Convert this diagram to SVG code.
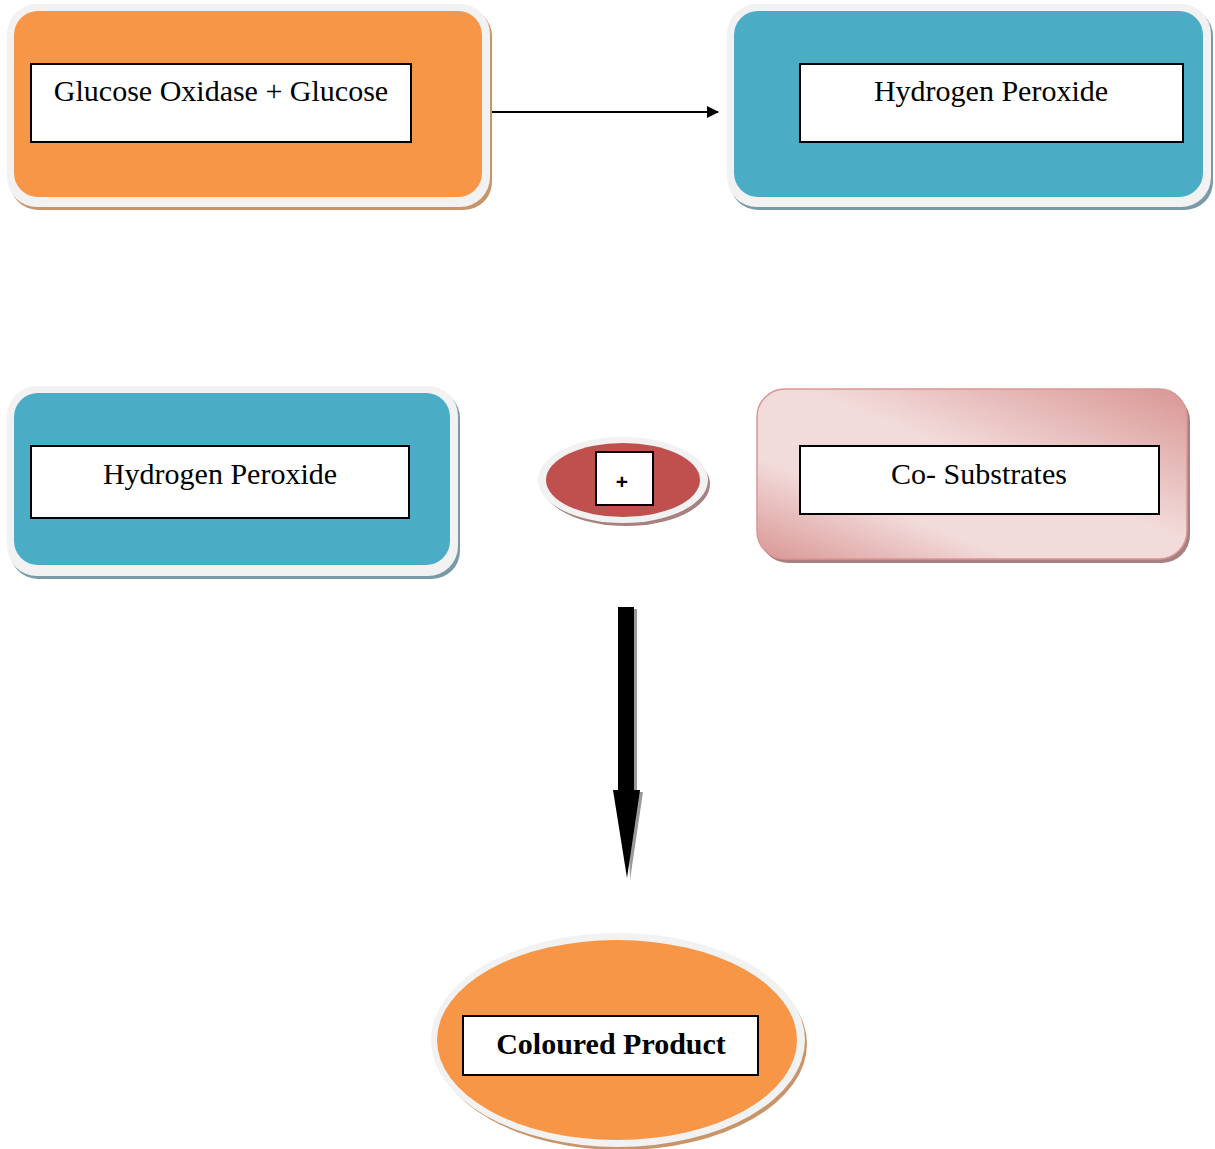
<svg xmlns="http://www.w3.org/2000/svg" width="1215" height="1149" viewBox="0 0 1215 1149">
<style>
.lbl{font-family:"Liberation Serif","Times New Roman",serif;font-size:30px;fill:#000;text-anchor:middle}
.inner{fill:#fff;stroke:#000;stroke-width:2}
.rim{fill:#f2f2f2}
.orange{fill:#f79646}
.teal{fill:#4bacc6}
.shO{fill:#c8956a}
.shT{fill:#7a9aa8}
.shR{fill:#a88080}
</style>
<defs>
<marker id="ah" markerWidth="12" markerHeight="12" refX="11" refY="6" orient="auto" markerUnits="userSpaceOnUse">
<path d="M0,0 L12,6 L0,12 Z" fill="#000"/>
</marker>
<linearGradient id="pink" x1="0" y1="1" x2="1" y2="0">
<stop offset="0" stop-color="#d99694"/>
<stop offset="0.3" stop-color="#f2dcdb"/>
<stop offset="0.55" stop-color="#f2dcdb"/>
<stop offset="1" stop-color="#d99694"/>
</linearGradient>
</defs>
<g id="connectors">
<line x1="491" y1="112" x2="718" y2="112" stroke="#000" stroke-width="2" marker-end="url(#ah)"/>
<path d="M621,609 L637,609 L637,792 L643,792 L630,880 Z" fill="#9a9a9a"/>
<path d="M618,607 L634,607 L634,790 L640,790 L627,878 L613,790 L618,790 Z" fill="#000"/>
</g>
<g id="node-glucose">
<rect x="10" y="8" width="482" height="202" rx="28" class="shO"/>
<rect x="7" y="4" width="483" height="203" rx="30" class="rim"/>
<rect x="14" y="11" width="468" height="186" rx="24" class="orange"/>
<rect x="31" y="64" width="380" height="78" class="inner"/>
<text x="221" y="101" class="lbl">Glucose Oxidase + Glucose</text>
</g>
<g id="node-h2o2-top">
<rect x="730" y="8" width="483" height="202" rx="28" class="shT"/>
<rect x="727" y="4" width="484" height="203" rx="30" class="rim"/>
<rect x="734" y="11" width="469" height="186" rx="24" class="teal"/>
<rect x="800" y="64" width="383" height="78" class="inner"/>
<text x="991" y="101" class="lbl">Hydrogen Peroxide</text>
</g>
<g id="node-h2o2">
<rect x="10" y="390" width="450" height="189" rx="28" class="shT"/>
<rect x="7" y="386" width="451" height="190" rx="30" class="rim"/>
<rect x="14" y="393" width="436" height="172" rx="24" class="teal"/>
<rect x="31" y="446" width="378" height="72" class="inner"/>
<text x="220" y="484" class="lbl">Hydrogen Peroxide</text>
</g>
<g id="node-plus">
<ellipse cx="626" cy="484" rx="84" ry="42" class="shR"/>
<ellipse cx="623" cy="480" rx="85" ry="43" class="rim"/>
<ellipse cx="623" cy="480" rx="77" ry="37" fill="#c0504d"/>
<rect x="596" y="452" width="57" height="53" class="inner"/>
<text x="622" y="489" font-family="Liberation Sans, Arial, sans-serif" font-size="21" font-weight="bold" text-anchor="middle">+</text>
</g>
<g id="node-cosubstrates">
<rect x="760" y="393" width="430" height="170" rx="28" class="shR"/>
<rect x="757" y="389" width="430" height="170" rx="28" fill="url(#pink)" stroke="#d99694" stroke-width="1.5"/>
<rect x="800" y="446" width="359" height="68" class="inner"/>
<text x="979" y="484" class="lbl">Co- Substrates</text>
</g>
<g id="node-product">
<ellipse cx="621" cy="1044" rx="186" ry="106" class="shO"/>
<ellipse cx="618" cy="1040" rx="187" ry="107" class="rim"/>
<ellipse cx="617" cy="1040" rx="180" ry="100" class="orange"/>
<rect x="463" y="1016" width="295" height="59" class="inner"/>
<text x="611" y="1054" class="lbl" font-weight="bold" font-size="32">Coloured Product</text>
</g>
</svg>
